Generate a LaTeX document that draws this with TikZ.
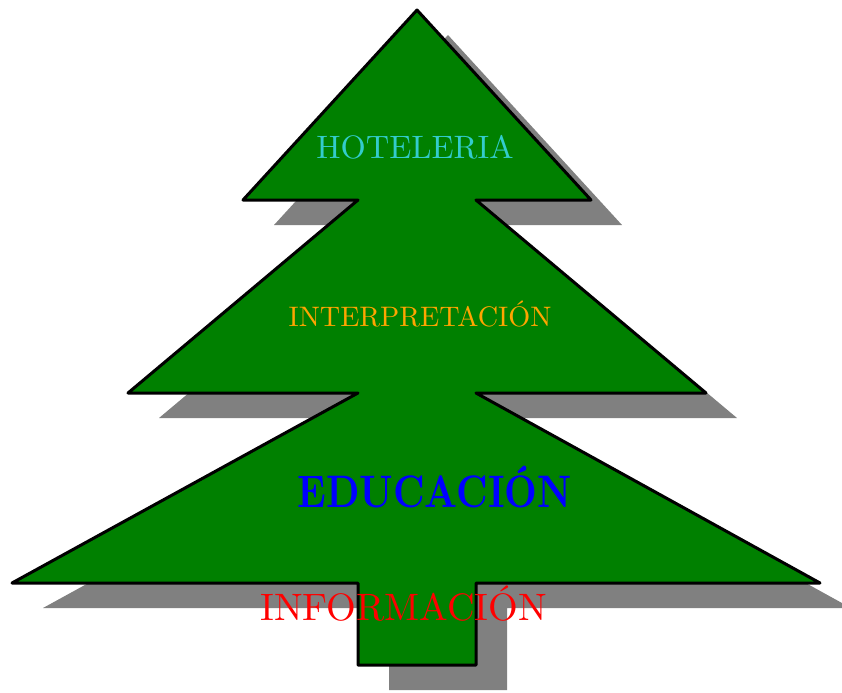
\documentclass[tikz,border=0pt]{standalone}
\usepackage{fontspec}
\usepackage{graphicx}
\usepackage{tikz}
\newfontfamily\tierfont{lmroman10-regular.otf}[BoldFont=lmroman10-bold.otf]
\definecolor{treegreen}{RGB}{0,128,0}
\definecolor{hotelcyan}{RGB}{51,204,204}
\definecolor{interporange}{RGB}{255,165,0}
\tikzstyle{tree} = [draw=black, line width=1.5pt, line join=round, fill=treegreen]
\tikzstyle{treeshadow} = [fill=gray]
\tikzstyle{tier} = [anchor=base, inner sep=0pt]
\newcommand{\treeoutline}{(417,10) -- (591,200) -- (476,200) -- (706,393) -- (476,393) -- (820,583) -- (476,583) -- (476,665) -- (358,665) -- (358,583) -- (12,583) -- (358,393) -- (128,393) -- (358,200) -- (243,200) -- cycle}

\begin{document}
\begin{tikzpicture}[x=0.5pt, y=-0.5pt]
        \useasboundingbox (0,0) rectangle (842,692);
        \fill [treeshadow, shift={(31,25)}] \treeoutline;
        \draw [tree] \treeoutline;

        \node (hoteleria) [tier, text=hotelcyan, font=\tierfont\fontsize{16.2}{19}\selectfont] at (415,158) {HOTELERIA};
        \node (interpretacion) [tier, text=interporange, font=\tierfont\fontsize{14.1}{17}\selectfont] at (420,326) {INTERPRETACIÓN};
        \node (educacion) [tier, text=blue, font=\tierfont\bfseries\fontsize{19}{23}\selectfont] at (434.5,507) {\scalebox{1}[1.2]{EDUCACIÓN}};
        \node (informacion) [tier, text=red, font=\tierfont\fontsize{19.1}{23}\selectfont] at (403.5,620) {INFORMACIÓN};

        \end{tikzpicture}
\end{document}
